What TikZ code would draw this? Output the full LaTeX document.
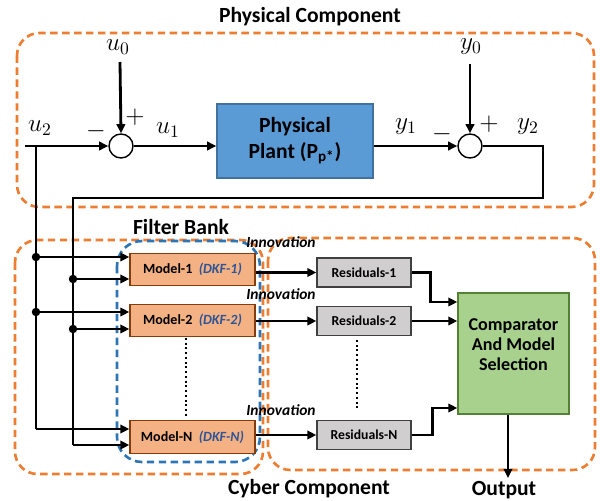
\documentclass[tikz,border=0pt]{standalone}
\usepackage{fontspec}
\setmainfont{Carlito}
\usetikzlibrary{arrows.meta,calc}
\definecolor{orng}{HTML}{ED7D31}
\definecolor{bluedash}{HTML}{2E75B6}
\definecolor{plantfill}{HTML}{5B9BD5}
\definecolor{plantdraw}{HTML}{41719C}
\definecolor{modelfill}{HTML}{F4B183}
\definecolor{modeldraw}{HTML}{843C0C}
\definecolor{resfill}{HTML}{D0CECE}
\definecolor{resdraw}{HTML}{404040}
\definecolor{cmpfill}{HTML}{A9D18E}
\definecolor{cmpdraw}{HTML}{548235}
\definecolor{dkf}{HTML}{2F5597}
\begin{document}
\begin{tikzpicture}[x=0.02cm,y=-0.02cm,
  wire/.style={line width=1.6pt},
  arr/.style={wire,-{Triangle[length=5.2pt,width=4.8pt]}},
  dots/.style={line width=1.1pt,dash pattern=on 1.1pt off 1.6pt},
  odash/.style={draw=orng,line width=1.5pt,dash pattern=on 4.2pt off 2.6pt,rounded corners=0.45cm},
  bdash/.style={draw=bluedash,line width=1.5pt,dash pattern=on 4.2pt off 2.6pt,rounded corners=0.5cm},
  title/.style={font=\fontsize{12.3}{14}\selectfont\bfseries,inner sep=0pt},
  mlabel/.style={font=\Large,inner sep=1pt},
  sgn/.style={font=\Large,inner sep=0pt},
  sumnode/.style={circle,draw,fill=white,line width=0.8pt,minimum size=0.48cm,inner sep=0pt},
  plantbox/.style={draw=plantdraw,fill=plantfill,line width=0.8pt,minimum width=3.12cm,minimum height=1.48cm,align=center,font=\fontsize{12.3}{14.5}\selectfont\bfseries},
  modelbox/.style={draw=modeldraw,fill=modelfill,line width=0.7pt,minimum width=2.5cm,minimum height=0.65cm,inner sep=0pt,font=\fontsize{8}{9.5}\selectfont\bfseries},
  resbox/.style={draw=resdraw,fill=resfill,line width=0.7pt,minimum width=1.88cm,minimum height=0.58cm,inner sep=0pt,font=\fontsize{7.8}{9.5}\selectfont\bfseries},
  cmpbox/.style={draw=cmpdraw,fill=cmpfill,line width=0.7pt,minimum width=2.22cm,minimum height=2.42cm,inner sep=0pt},
  cmptext/.style={align=center,inner sep=0pt,font=\fontsize{10.3}{11.4}\selectfont\bfseries},
  innov/.style={font=\fontsize{8.8}{10}\selectfont\bfseries\itshape,inner sep=0pt},
  jdot/.style={circle,fill=black,inner sep=0pt,minimum size=0.17cm}
]
\useasboundingbox (0,0) rectangle (600,501);

% dashed group boxes
\draw[odash] (17,33) rectangle (594,207);
\draw[odash] (15,240) rectangle (263,474);
\draw[odash] (268,238) rectangle (595,470);
\draw[bdash] (117,241) rectangle (260,462);

% titles
\node[title] (tphys) at (310,17) {Physical Component};
\node[title] (tfb) at (181,227) {Filter Bank};
\node[title] (tcy) at (309,489) {Cyber Component};
\node[title] (tout) at (504,490) {Output};

% physical part
\node[sumnode] (s1) at (121,146) {};
\node[sumnode] (s2) at (470,146) {};
\node[plantbox] (plant) at (295,141) {Physical\\Plant (P\textsubscript{p*})};

\node[mlabel] (lu0) at (118,47) {$u_0$};
\node[mlabel] (lu1) at (168,130) {$u_1$};
\node[mlabel] (lu2) at (40,128) {$u_2$};
\node[mlabel] (ly0) at (471,47) {$y_0$};
\node[mlabel] (ly1) at (406,127) {$y_1$};
\node[mlabel] (ly2) at (528,127) {$y_2$};
\node[sgn] (p1) at (135,117) {$+$};
\node[sgn] (m1s) at (96,131) {$-$};
\node[sgn] (p2) at (489,124) {$+$};
\node[sgn] (m2s) at (442,134) {$-$};

\coordinate (u0top) at (120,62);
\coordinate (y0top) at (470,64);
\coordinate (u2start) at (25,146);
\coordinate (u2top) at (36,146);
\coordinate (u2bot) at (36,429);
\coordinate (ju1) at (36,257);
\coordinate (ju2) at (36,312);
\coordinate (y2r) at (543,146);
\coordinate (y2c) at (543,198);
\coordinate (y2l) at (73,198);
\coordinate (y2bot) at (73,445);
\coordinate (jy1) at (73,279);
\coordinate (jy2) at (73,329);

\draw[arr] (u0top) -- (s1.north);
\draw[arr] (y0top) -- (s2.north);
\draw[arr] (u2start) -- (s1.west);
\draw[arr] (s1.east) -- (plant.west |- s1.east);
\draw[arr] (plant.east |- s2.west) -- (s2.west);
\draw[wire] (s2.east) -- (y2r) -- (y2c) -- (y2l) -- (y2bot);
\draw[wire] (u2top) -- (u2bot);

% filter bank
\node[modelbox] (mod1) at (192.5,269.5) {Model-1 \ {\color{dkf}\itshape(DKF-1)}};
\node[modelbox] (mod2) at (192.5,320.5) {Model-2 \ {\color{dkf}\itshape(DKF-2)}};
\node[modelbox] (modN) at (192.5,437) {Model-N \ {\color{dkf}\itshape(DKF-N)}};

\draw[arr] (ju1) -- (ju1 -| mod1.west);
\draw[arr] (jy1) -- (jy1 -| mod1.west);
\draw[arr] (ju2) -- (ju2 -| mod2.west);
\draw[arr] (jy2) -- (jy2 -| mod2.west);
\draw[arr] (u2bot) -- (u2bot -| modN.west);
\draw[arr] (y2bot) -- (y2bot -| modN.west);
\node[jdot] (d1) at (ju1) {};
\node[jdot] (d2) at (jy1) {};
\node[jdot] (d3) at (ju2) {};
\node[jdot] (d4) at (jy2) {};

\coordinate (dt1) at (186,338);
\coordinate (dt2) at (186,418);
\draw[dots] (dt1) -- (dt2);

% residuals
\node[resbox] (r1) at (364,272.5) {Residuals-1};
\node[resbox] (r2) at (364,321) {Residuals-2};
\node[resbox] (rN) at (364,435) {Residuals-N};
\coordinate (dt3) at (357,340);
\coordinate (dt4) at (357,411);
\draw[dots] (dt3) -- (dt4);

\draw[arr] (r1.west -| mod1.east) -- (r1.west);
\draw[arr] (r2.west -| mod2.east) -- (r2.west);
\draw[arr] (rN.west -| modN.east) -- (rN.west);

\node[innov] (i1) at (281,242) {Innovation};
\node[innov] (i2) at (281,294) {Innovation};
\node[innov] (i3) at (281,410) {Innovation};

% comparator
\node[cmpbox] (cmp) at (513.5,353.5) {};
\node[cmptext] (cmpt) at (513.5,345) {Comparator\\And Model\\Selection};
\draw[arr] (r1.east) -- ++(19,0) |- ($(cmp.west)+(0,-51.5)$);
\draw[arr] (r2.east) -- (r2.east -| cmp.west);
\draw[arr] (rN.east) -- ++(21,0) |- ($(cmp.west)+(0,54.5)$);
\draw[arr] (cmp.south -| 508,0) -- (508,478);
\end{tikzpicture}
\end{document}
